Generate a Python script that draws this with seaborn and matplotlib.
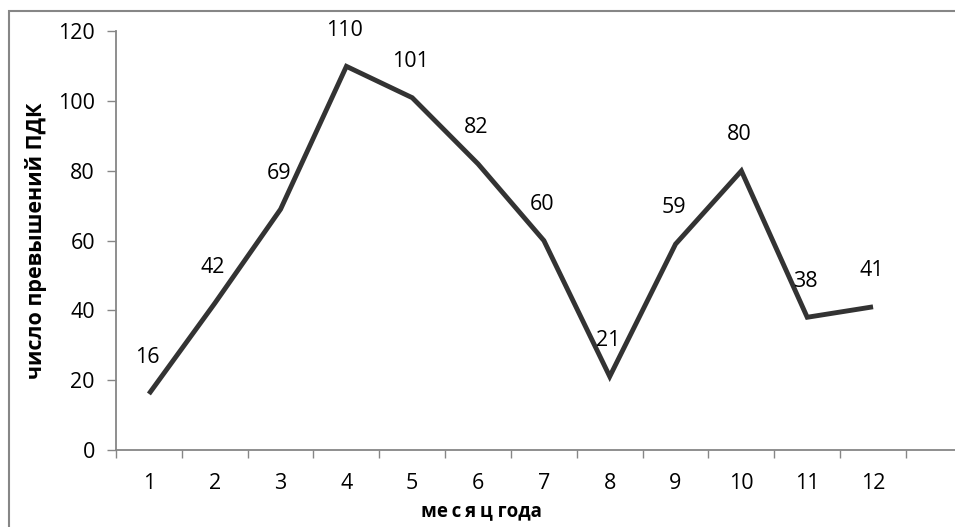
import matplotlib
matplotlib.use("Agg")
import matplotlib.pyplot as plt
import matplotlib.patches as mpatches
import seaborn as sns
import pandas as pd
import numpy as np

# monthly counts of exceedances of the maximum permissible concentration
months = [1, 2, 3, 4, 5, 6, 7, 8, 9, 10, 11, 12]
exceedances = [16, 42, 69, 110, 101, 82, 60, 21, 59, 80, 38, 41]
y_ticks = [0, 20, 40, 60, 80, 100, 120]

x_title = "ме\u2009с\u2009я\u2009ц года"
y_title = "число превышений ПДК"

df = pd.DataFrame({"month": months, "count": exceedances})

sns.set_theme(style="white")
plt.rcParams["font.family"] = ["Open Sans", "DejaVu Sans"]

W, H = 955, 527
fig = plt.figure(figsize=(W / 100, H / 100), dpi=100)
fig.patch.set_facecolor("white")

# plot area in pixel terms (category slot ~65.8 px, one spare slot on the right)
left_px, bottom_px, top_px = 116, 449.7, 31.5
slot = 65.83
n_slots = 13
ax = fig.add_axes([left_px / W, 1 - bottom_px / H,
                   n_slots * slot / W, (bottom_px - top_px) / H])
ax.set_facecolor("none")

line_color = "#333333"
axis_color = "#868686"
num_size = 15.5

sns.lineplot(data=df, x="month", y="count", ax=ax, color=line_color,
             linewidth=3.5, solid_joinstyle="miter", solid_capstyle="butt",
             legend=False)

ax.set_xlim(0.5, 0.5 + n_slots)
ax.set_ylim(0, 120)

# category boundaries carry the tick marks, labels sit in the slot centres
ax.set_xticks(np.arange(0.5, 0.5 + n_slots + 1, 1.0))
ax.set_xticklabels([])
ax.set_xticks(months, minor=True)
ax.set_xticklabels([str(m) for m in months], minor=True)
ax.set_yticks(y_ticks)
ax.set_yticklabels([str(v) for v in y_ticks])

ax.tick_params(axis="x", which="major", direction="out", length=5.8,
               width=1.0, color=axis_color, bottom=True)
ax.tick_params(axis="x", which="minor", length=0, pad=17, labelsize=num_size,
               labelcolor="black", bottom=True)
ax.tick_params(axis="y", which="major", direction="out", length=6.2,
               width=1.0, color=axis_color, left=True, pad=9,
               labelsize=num_size, labelcolor="black")

for side in ("top", "right"):
    ax.spines[side].set_visible(False)
for side in ("left", "bottom"):
    ax.spines[side].set_color(axis_color)
    ax.spines[side].set_linewidth(1.3)

ax.set_xlabel("")
ax.set_ylabel("")
ax.grid(False)

# value labels above each point
for m, v in zip(months, exceedances):
    ax.annotate(str(v), xy=(m, v), xytext=(-1.2, 26), textcoords="offset points",
                ha="center", va="center", fontsize=num_size, color="black")

fig.text(481 / W, 1 - 511 / H, x_title, ha="center", va="center",
         fontsize=13.5, fontweight="bold", color="black")
fig.text(36 / W, 1 - 241 / H, y_title, ha="center", va="center",
         rotation=90, fontsize=15.5, fontweight="bold", color="black")

# outer chart frame (runs past the right and bottom edges)
frame = mpatches.Rectangle((8.5 / W, -0.2), 1.2, 1.2 - 10.5 / H,
                           transform=fig.transFigure, fill=False,
                           edgecolor=axis_color, linewidth=1.5, zorder=0)
fig.patches.append(frame)

fig.savefig("out.png", dpi=100)
